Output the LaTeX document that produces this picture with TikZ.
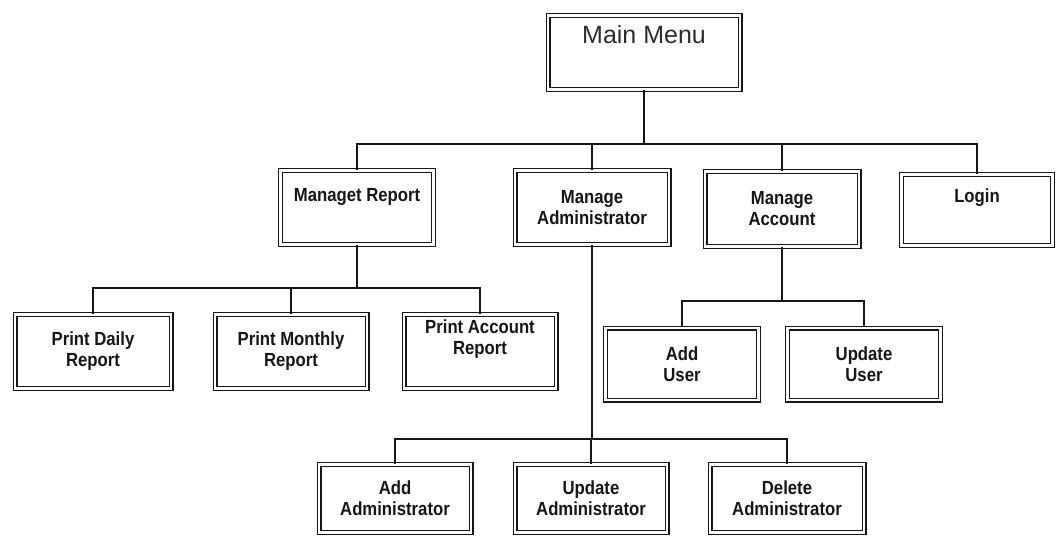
\documentclass[tikz,border=0pt]{standalone}
\usepackage{fontspec}
\setmainfont{Liberation Sans}
\newfontfamily\boxfont[FakeStretch=0.88]{Liberation Sans}
\definecolor{ink}{HTML}{161616}
\begin{document}
\begin{tikzpicture}[x=1pt,y=-1pt,
  menubox/.style={draw=ink, double=white, double distance=2.2pt, line width=1.4pt,
    inner sep=0pt, align=center, text=ink,
    font=\boxfont\bfseries\fontsize{19}{21}\selectfont},
  lbl/.style={inner sep=0pt, align=center, text=ink,
    font=\boxfont\bfseries\fontsize{19}{21}\selectfont},
  titlelbl/.style={inner sep=0pt, text=ink!90, font=\fontsize{25}{28}\selectfont},
  link/.style={draw=ink, line width=2pt}]
\useasboundingbox (0,0) rectangle (1056,539);
\fill[white] (0,0) rectangle (1056,539);

% top level
\node[menubox, minimum width=192pt, minimum height=74pt] (mm) at (644,52.5) {};
\node[titlelbl] (mmt) at ([yshift=17.5pt]mm.center) {Main Menu};

% second level
\node[menubox, minimum width=153pt, minimum height=74pt] (mr) at (357,207.5) {};
\node[lbl] (mrt) at ([yshift=10.5pt]mr.center) {Managet Report};
\node[menubox, minimum width=154pt, minimum height=74pt] (ma) at (592,207.5) {Manage\\Administrator};
\node[menubox, minimum width=154pt, minimum height=75pt] (mc) at (782,209) {Manage\\Account};
\node[menubox, minimum width=151pt, minimum height=71pt] (lg) at (977,210) {};
\node[lbl] (lgt) at ([yshift=12pt]lg.center) {Login};

% report printing
\node[menubox, minimum width=156pt, minimum height=74pt] (pd) at (93,351.5) {Print Daily\\Report};
\node[menubox, minimum width=152pt, minimum height=74pt] (pm) at (291,351.5) {Print Monthly\\Report};
\node[menubox, minimum width=152pt, minimum height=74pt] (pa) at (480,351.5) {};
\node[lbl] (pat) at ([yshift=12.5pt]pa.center) {Print Account\\Report};

% account handling
\node[menubox, minimum width=153pt, minimum height=72pt] (au) at (682,364) {Add\\User};
\node[menubox, minimum width=153pt, minimum height=72pt] (uu) at (864,364) {Update\\User};

% administrator handling
\node[menubox, minimum width=152pt, minimum height=68pt] (aa) at (395,498.5) {Add\\Administrator};
\node[menubox, minimum width=152pt, minimum height=68pt] (ua) at (591,498.5) {Update\\Administrator};
\node[menubox, minimum width=154pt, minimum height=68pt] (da) at (787,498.5) {Delete\\Administrator};

% bus levels
\coordinate (busa) at (0,144);
\coordinate (busb) at (0,288);
\coordinate (busc) at (0,301);
\coordinate (busd) at (0,439);

% connectors
\draw[link] (mm.south) -- (mm.south |- busa);
\draw[link] (mr.north) |- (busa -| lg.north) -- (lg.north);
\draw[link] (ma.north) -- (ma.north |- busa);
\draw[link] (mc.north) -- (mc.north |- busa);

\draw[link] (mr.south) -- (mr.south |- busb);
\draw[link] (pd.north) |- (busb -| pa.north) -- (pa.north);
\draw[link] (pm.north) -- (pm.north |- busb);

\draw[link] (mc.south) -- (mc.south |- busc);
\draw[link] (au.north) |- (busc -| uu.north) -- (uu.north);

\draw[link] (ma.south) -- (ma.south |- busd);
\draw[link] (aa.north) |- (busd -| da.north) -- (da.north);
\draw[link] (ua.north) -- (ua.north |- busd);
\end{tikzpicture}
\end{document}
